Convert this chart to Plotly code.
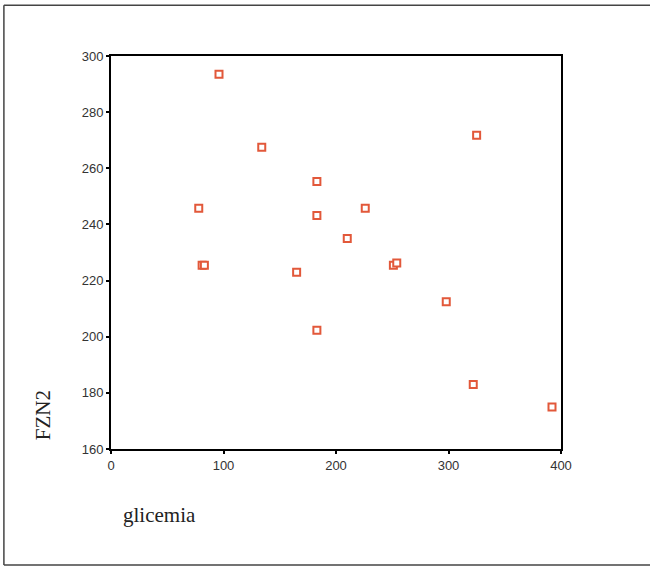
import plotly.graph_objects as go

glicemia = [96, 134, 325, 183, 78, 183, 226, 210, 81, 83, 165, 251, 254, 298, 183, 322, 392]
fzn2 = [293.5, 267.5, 271.8, 255.3, 245.8, 243.2, 245.8, 235.0, 225.5, 225.5, 223.0, 225.5, 226.3, 212.5, 202.3, 183.0, 175.0]

x_ticks = [0, 100, 200, 300, 400]
y_ticks = [160, 180, 200, 220, 240, 260, 280, 300]

fig = go.Figure()
fig.add_trace(go.Scatter(
    x=glicemia, y=fzn2, mode="markers",
    marker=dict(symbol="square", size=7, color="white",
                line=dict(color="#e2583a", width=2)),
    showlegend=False, hoverinfo="skip"))

tickfont = dict(family="Liberation Sans, Arial", size=13, color="#333333")
fig.update_xaxes(range=[0, 400], tickvals=x_ticks, ticks="outside", ticklen=3,
                 tickwidth=2, tickcolor="black", showline=True, linecolor="black",
                 linewidth=2, mirror=True, showgrid=False, zeroline=False,
                 tickfont=tickfont)
fig.update_yaxes(range=[160, 300], tickvals=y_ticks, ticks="outside", ticklen=3,
                 tickwidth=2, tickcolor="black", showline=True, linecolor="black",
                 linewidth=2, mirror=True, showgrid=False, zeroline=False,
                 tickfont=tickfont)

serif = dict(family="Liberation Serif, Times New Roman", size=21, color="#222222")
fig.add_annotation(text="FZN2", xref="paper", yref="paper", x=-0.152, y=0.085,
                   textangle=-90, showarrow=False, font=serif,
                   xanchor="center", yanchor="middle")
fig.add_annotation(text="glicemia", xref="paper", yref="paper", x=0.022, y=-0.168,
                   showarrow=False, font=serif, xanchor="left", yanchor="middle")

# outer frame
fig.add_shape(type="line", xref="paper", yref="paper", x0=-0.238, x1=1.3, y0=1.129, y1=1.129,
              line=dict(color="#444444", width=1.5))
fig.add_shape(type="line", xref="paper", yref="paper", x0=-0.238, x1=1.3, y0=-0.295, y1=-0.295,
              line=dict(color="#444444", width=1.5))
fig.add_shape(type="line", xref="paper", yref="paper", x0=-0.238, x1=-0.238, y0=-0.295, y1=1.129,
              line=dict(color="#444444", width=1.5))

fig.update_layout(width=650, height=567, margin=dict(l=111, r=89, t=56, b=118),
                  plot_bgcolor="white", paper_bgcolor="white")
fig.write_html("out.html", config={"displayModeBar": False},
               post_script="document.body.style.margin='0';")
